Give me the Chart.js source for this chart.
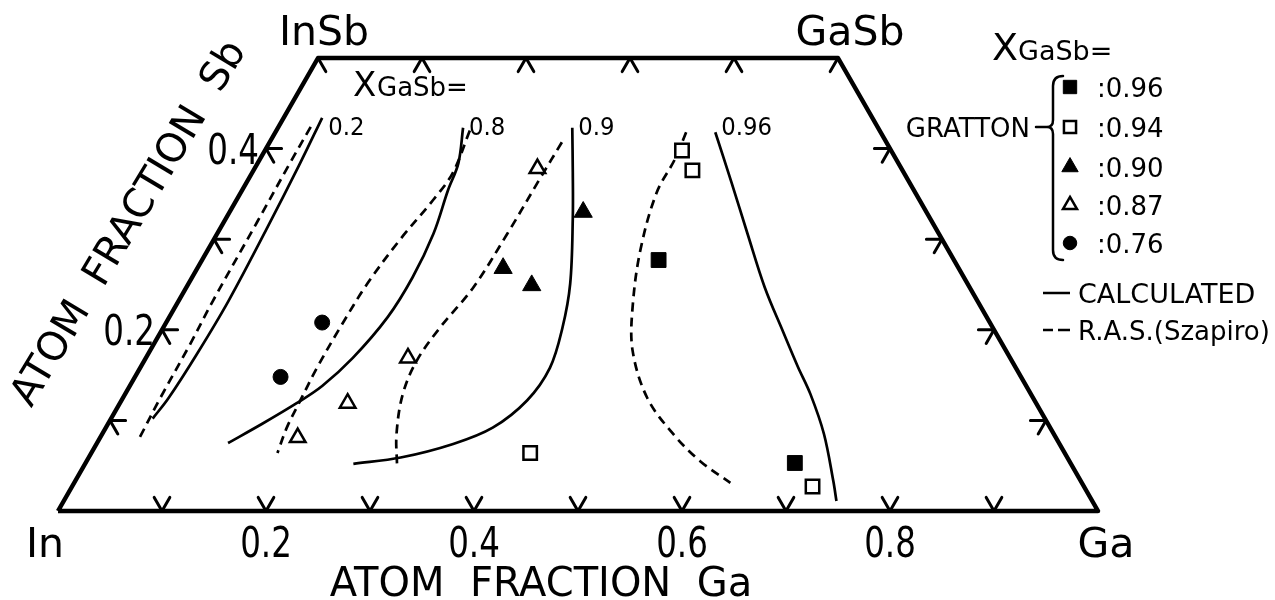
<!DOCTYPE html>
<html>
<head>
<meta charset="utf-8">
<title>In-Ga-Sb liquidus</title>
<script src="https://cdn.jsdelivr.net/npm/chart.js"></script>
<style>
  html, body { margin: 0; padding: 0; background: #fff; }
  #wrap { width: 1275px; height: 600px; }
</style>
</head>
<body>
<div id="wrap"><canvas id="ternaryChart" width="1275" height="600"></canvas></div>
<script>
// all compositions are [Ga, Sb] atom fractions
const baseTicks = [0.1, 0.2, 0.3, 0.4, 0.5, 0.6, 0.7, 0.8, 0.9];
const topTicks = [0.1, 0.2, 0.3, 0.4];
const sideTicks = [0.1, 0.2, 0.3, 0.4];
const baseLabels = ['0.2', '0.4', '0.6', '0.8'];
const baseLabelValues = [0.2, 0.4, 0.6, 0.8];
const sideLabels = ['0.2', '0.4'];
const sideLabelValues = [0.2, 0.4];

const frameCorners = [[0, 0], [1, 0], [0.5, 0.5], [0, 0.5], [0, 0]];

// calculated liquidus curves for X_GaSb = 0.2, 0.8, 0.9, 0.96
const calc020 = [[0.037, 0.434], [0.041, 0.382], [0.045, 0.310], [0.048, 0.232], [0.047, 0.175], [0.044, 0.125], [0.040, 0.102]];
const calc080 = [[0.178, 0.423], [0.193, 0.384], [0.198, 0.354], [0.208, 0.306], [0.212, 0.258], [0.210, 0.214], [0.199, 0.169], [0.185, 0.138], [0.170, 0.119], [0.148, 0.096], [0.126, 0.075]];
const calc090 = [[0.283, 0.423], [0.308, 0.374], [0.333, 0.324], [0.367, 0.251], [0.384, 0.202], [0.394, 0.158], [0.390, 0.122], [0.372, 0.092], [0.343, 0.074], [0.300, 0.059], [0.258, 0.052]];
const calc096 = [[0.423, 0.418], [0.466, 0.363], [0.510, 0.306], [0.556, 0.247], [0.599, 0.197], [0.632, 0.159], [0.659, 0.129], [0.694, 0.085], [0.729, 0.033], [0.743, 0.011]];
const curveLabels = ['0.2', '0.8', '0.9', '0.96'];

// R.A.S. (Szapiro) curves
const ras020 = [[0.031, 0.424], [0.031, 0.387], [0.032, 0.319], [0.033, 0.232], [0.035, 0.183], [0.036, 0.125], [0.038, 0.081]];
const ras080 = [[0.186, 0.420], [0.193, 0.373], [0.189, 0.343], [0.179, 0.299], [0.172, 0.251], [0.170, 0.202], [0.170, 0.158], [0.172, 0.122], [0.174, 0.092], [0.179, 0.064]];
const ras090 = [[0.281, 0.407], [0.280, 0.368], [0.279, 0.306], [0.276, 0.247], [0.266, 0.202], [0.262, 0.166], [0.267, 0.129], [0.283, 0.085], [0.301, 0.050]];
const ras096 = [[0.395, 0.418], [0.399, 0.389], [0.400, 0.351], [0.416, 0.288], [0.440, 0.225], [0.464, 0.177], [0.504, 0.125], [0.549, 0.085], [0.590, 0.055], [0.631, 0.031]];

// Gratton data points
const gratton096 = [[0.439, 0.277], [0.682, 0.053]];
const gratton094 = [[0.422, 0.064], [0.401, 0.398], [0.422, 0.376], [0.712, 0.027]];
const gratton090 = [[0.294, 0.268], [0.331, 0.249], [0.340, 0.330]];
const gratton087 = [[0.219, 0.119], [0.190, 0.081], [0.252, 0.169], [0.272, 0.378]];
const gratton076 = [[0.150, 0.208], [0.140, 0.148]];
const legendLabels = [':0.96', ':0.94', ':0.90', ':0.87', ':0.76'];

// page geometry: In corner at x=58, side 1040px, base at y=511, 906px per unit Sb
const plotLeft = 58, sideLen = 1040, baseY = 511, sbPx = 906;

const WORD_FONT = '"DejaVu Sans", sans-serif';
const NUM_FONT = '"DejaVu Sans Condensed", "DejaVu Sans", sans-serif';

// skew ternary composition onto the plane: x = Ga + Sb/2, y = Sb
const toXY = ([ga, sb]) => ({ x: ga + sb / 2, y: sb });

const tickPath = () => {
  const L = 0.015;
  const pts = [];
  const gap = { x: null, y: null };
  const mark = (arms, g, s) => {
    // arms: list of [dGa, dSb] strokes starting at the edge point
    if (arms.length === 2) {
      pts.push(toXY([g + arms[0][0], s + arms[0][1]]), toXY([g, s]), toXY([g + arms[1][0], s + arms[1][1]]), gap);
    } else {
      pts.push(toXY([g, s]), toXY([g + arms[0][0], s + arms[0][1]]), gap);
    }
  };
  baseTicks.forEach(g => mark([[-L, L], [0, L]], g, 0));
  topTicks.forEach(g => mark([[0, -L], [L, -L]], g, 0.5));
  mark([[L, -L]], 0, 0.5);
  mark([[0, -L]], 0.5, 0.5);
  sideTicks.forEach(s => mark([[L, 0], [L, -L]], 0, s));
  sideTicks.forEach(s => mark([[-L, 0], [0, -L]], 1 - s, s));
  return pts;
};

const lineSet = (label, pts, dashed) => ({
  label,
  data: pts.map(toXY),
  showLine: true,
  borderColor: '#000',
  borderWidth: 2.7,
  borderDash: dashed ? [9, 6] : [],
  borderCapStyle: 'butt',
  pointRadius: 0,
  tension: 0.35,
  fill: false
});

const markerSet = (label, pts, style, filled, radius) => ({
  label,
  data: pts.map(toXY),
  showLine: false,
  pointStyle: style,
  pointRadius: radius,
  pointBackgroundColor: filled ? '#000' : '#fff',
  pointBorderColor: '#000',
  pointBorderWidth: filled ? 1 : 2.5
});

const markerSets = [
  markerSet('Gratton 0.96', gratton096, 'rect', true, 10.5),
  markerSet('Gratton 0.94', gratton094, 'rect', false, 9.5),
  markerSet('Gratton 0.90', gratton090, 'triangle', true, 10.5),
  markerSet('Gratton 0.87', gratton087, 'triangle', false, 9),
  markerSet('Gratton 0.76', gratton076, 'circle', true, 7.5)
];

const calcSets = [calc020, calc080, calc090, calc096];

const textPlugin = {
  id: 'ternaryText',
  afterDatasetsDraw(chart) {
    const { ctx, scales: { x, y } } = chart;
    const px = (g, s) => x.getPixelForValue(g + s / 2);
    const py = s => y.getPixelForValue(s);
    // squeeze < 1 narrows the glyphs horizontally
    const text = (str, tx, ty, font, align, squeeze) => {
      ctx.save();
      ctx.font = font;
      ctx.textAlign = align || 'left';
      ctx.translate(tx, ty);
      ctx.scale(squeeze || 1, 1);
      ctx.fillText(str, 0, 0);
      ctx.restore();
    };

    ctx.save();
    ctx.fillStyle = '#000';
    ctx.textBaseline = 'alphabetic';

    // corner names
    text('In', px(0, 0) - 13, 557, '41px ' + WORD_FONT, 'center');
    text('Ga', px(1, 0) + 8, 557, '41px ' + WORD_FONT, 'center');
    text('InSb', px(0, 0.5) + 6, 45, '41px ' + WORD_FONT, 'center');
    text('GaSb', px(0.5, 0.5) + 12, 45, '41px ' + WORD_FONT, 'center');

    // scale numbers
    baseLabels.forEach((lab, i) => {
      text(lab, px(baseLabelValues[i], 0), 557, '42px ' + NUM_FONT, 'center', 0.86);
    });
    sideLabels.forEach((lab, i) => {
      const s = sideLabelValues[i];
      text(lab, px(0, s) - 7, py(s) + 15, '42px ' + NUM_FONT, 'right', 0.86);
    });

    // axis titles
    text('ATOM  FRACTION  Ga', 541, 596, '40px ' + WORD_FONT, 'center');
    ctx.save();
    ctx.translate(130, 224);
    ctx.rotate(-59 * Math.PI / 180);
    ctx.textBaseline = 'middle';
    text('ATOM  FRACTION  Sb', 0, 0, '40px ' + WORD_FONT, 'center');
    ctx.restore();

    // X_GaSb values at the top of each calculated curve
    text('X', 353, 96, '34px ' + WORD_FONT);
    text('GaSb=', 377, 96, '26px ' + WORD_FONT);
    calcSets.forEach((c, i) => {
      text(curveLabels[i], px(c[0][0], c[0][1]) + 6, py(0.415), '24px ' + WORD_FONT, 'left', 0.95);
    });

    // legend
    text('X', 992, 60, '38px ' + WORD_FONT);
    text('GaSb=', 1018, 60, '27px ' + WORD_FONT);

    const rowY = [87, 127, 167, 205, 243];
    markerSets.forEach((ds, i) => {
      ctx.fillStyle = ds.pointBackgroundColor;
      ctx.strokeStyle = ds.pointBorderColor;
      ctx.lineWidth = ds.pointBorderWidth;
      Chart.helpers.drawPoint(ctx, {
        pointStyle: ds.pointStyle,
        radius: ds.pointRadius * 0.9,
        borderWidth: ds.pointBorderWidth,
        rotation: 0
      }, 1070, rowY[i]);
      ctx.fillStyle = '#000';
      text(legendLabels[i], 1097, rowY[i] + 10, '26px ' + WORD_FONT);
    });

    // brace grouping the Gratton entries
    ctx.strokeStyle = '#000';
    ctx.lineWidth = 2.5;
    ctx.lineCap = 'round';
    ctx.beginPath();
    ctx.moveTo(1063, 76);
    ctx.quadraticCurveTo(1053, 76, 1053, 86);
    ctx.lineTo(1053, 120);
    ctx.quadraticCurveTo(1053, 127, 1047, 127);
    ctx.quadraticCurveTo(1053, 127, 1053, 134);
    ctx.lineTo(1053, 250);
    ctx.quadraticCurveTo(1053, 260, 1063, 260);
    ctx.moveTo(1036, 127);
    ctx.lineTo(1047, 127);
    ctx.stroke();
    text('GRATTON', 1030, 137, '26px ' + WORD_FONT, 'right');

    // line keys
    ctx.lineCap = 'butt';
    ctx.lineWidth = 2.7;
    ctx.beginPath();
    ctx.moveTo(1043, 293);
    ctx.lineTo(1070, 293);
    ctx.moveTo(1043, 330);
    ctx.lineTo(1053, 330);
    ctx.moveTo(1058, 330);
    ctx.lineTo(1070, 330);
    ctx.stroke();
    text('CALCULATED', 1078, 303, '27px ' + WORD_FONT);
    text('R.A.S.(Szapiro)', 1078, 340, '26px ' + WORD_FONT);

    ctx.restore();
  }
};

const data = {
  datasets: [
    ...markerSets,
    lineSet('calc 0.2', calc020, false),
    lineSet('calc 0.8', calc080, false),
    lineSet('calc 0.9', calc090, false),
    lineSet('calc 0.96', calc096, false),
    lineSet('RAS 0.2', ras020, true),
    lineSet('RAS 0.8', ras080, true),
    lineSet('RAS 0.9', ras090, true),
    lineSet('RAS 0.96', ras096, true),
    {
      label: 'ticks',
      data: tickPath(),
      showLine: true,
      spanGaps: false,
      borderColor: '#000',
      borderWidth: 3,
      borderCapStyle: 'round',
      borderJoinStyle: 'round',
      pointRadius: 0,
      tension: 0
    },
    {
      label: 'frame',
      data: frameCorners.map(toXY),
      showLine: true,
      borderColor: '#000',
      borderWidth: 4.5,
      borderJoinStyle: 'round',
      pointRadius: 0,
      tension: 0
    }
  ]
};

const config = {
  type: 'scatter',
  data: data,
  options: {
    responsive: false,
    animation: false,
    events: [],
    layout: { padding: 0, autoPadding: false },
    plugins: {
      legend: { display: false },
      tooltip: { enabled: false }
    },
    scales: {
      x: { type: 'linear', display: false, min: -plotLeft / sideLen, max: (1275 - plotLeft) / sideLen },
      y: { type: 'linear', display: false, min: (baseY - 600) / sbPx, max: baseY / sbPx }
    }
  },
  plugins: [textPlugin]
};

const ternaryChart = new Chart(document.getElementById('ternaryChart'), config);
</script>
</body>
</html>
